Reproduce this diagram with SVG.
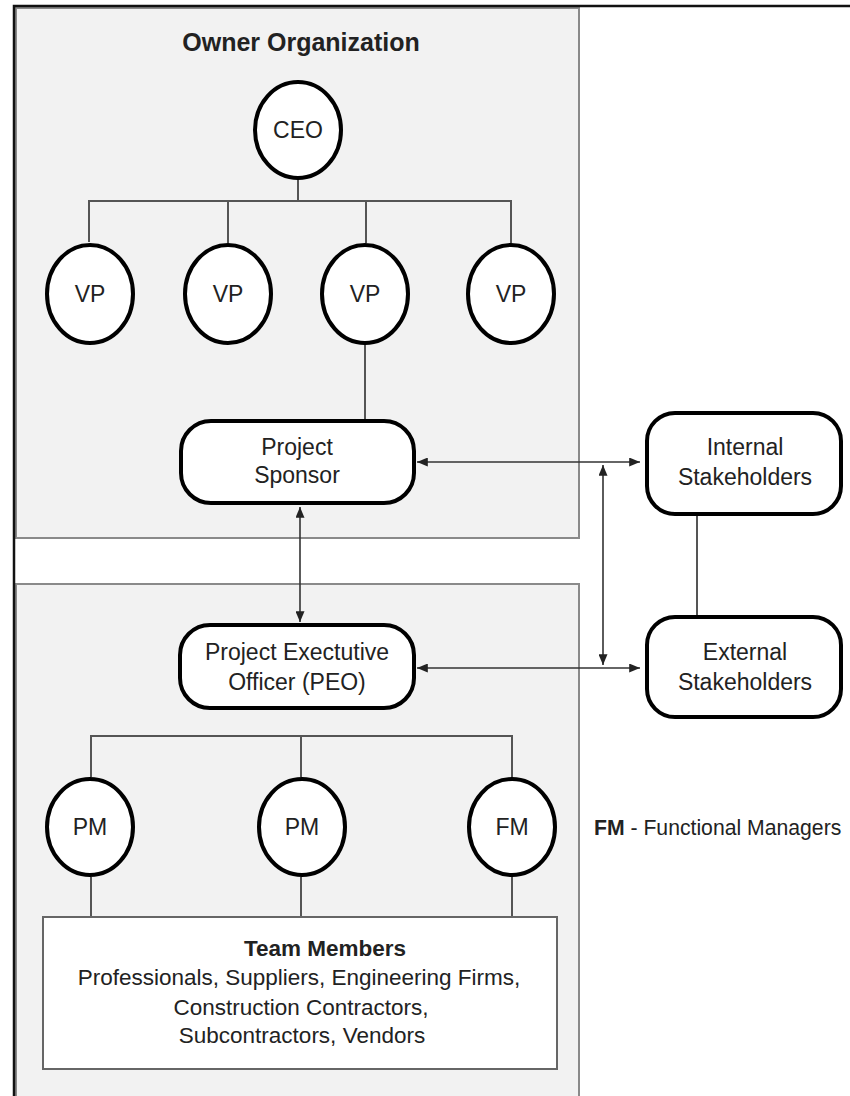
<svg xmlns="http://www.w3.org/2000/svg" width="850" height="1096" viewBox="0 0 850 1096">
  <style>
    .panel { fill: #f2f2f2; stroke: #8a8a8a; stroke-width: 2; }
    .frame { fill: none; stroke: #111; stroke-width: 2.5; }
    .oval { fill: #fff; stroke: #000; stroke-width: 4; }
    .pill { fill: #fff; stroke: #000; stroke-width: 4; }
    .plain { fill: #fff; stroke: #666; stroke-width: 2; }
    .link { fill: none; stroke: #555; stroke-width: 2; }
    .arrow { fill: none; stroke: #333; stroke-width: 1.6; marker-start: url(#head); marker-end: url(#head); }
    text { font-family: "Liberation Sans", Arial, sans-serif; fill: #222; text-anchor: middle; }
    .lbl { font-size: 23px; }
    .team { font-size: 22.5px; }
    .bold { font-weight: bold; }
  </style>
  <defs>
    <marker id="head" viewBox="0 0 12 10" refX="12" refY="5" markerWidth="12" markerHeight="9" markerUnits="userSpaceOnUse" orient="auto-start-reverse">
      <path d="M0,0 L12,5 L0,10 Z" fill="#222"/>
    </marker>
  </defs>

  <rect width="850" height="1096" fill="#fff"/>

  <!-- panels -->
  <g id="owner-panel">
    <rect class="panel" x="16" y="8" width="563" height="530"/>
    <text class="bold" x="301" y="51" font-size="25">Owner Organization</text>
  </g>
  <g id="project-panel">
    <rect class="panel" x="16" y="584" width="563" height="520"/>
  </g>

  <!-- outer frame -->
  <path class="frame" d="M14,1096 V6 H850"/>

  <!-- connectors -->
  <g id="connectors">
    <path class="link" d="M298,180 V201 M89,242 V201 H511 V243 M228,201 V243 M366,201 V243"/>
    <path class="link" d="M365,345 V420"/>
    <path class="link" d="M697,515 V616"/>
    <path class="link" d="M91,777 V736 H512 V777 M301,736 V777"/>
    <path class="link" d="M91,877 V917 M301,877 V917 M512,877 V917"/>
    <line class="arrow" x1="300" y1="507" x2="300" y2="622"/>
    <line class="arrow" x1="417" y1="462" x2="640" y2="462"/>
    <line class="arrow" x1="417" y1="668" x2="640" y2="668"/>
    <line class="arrow" x1="603" y1="465" x2="603" y2="665"/>
  </g>

  <!-- owner organization nodes -->
  <g id="ceo">
    <ellipse class="oval" cx="298" cy="130" rx="43" ry="48"/>
    <text class="lbl" x="298" y="138">CEO</text>
  </g>
  <g id="vp1">
    <ellipse class="oval" cx="90" cy="294" rx="43" ry="49"/>
    <text class="lbl" x="90" y="302">VP</text>
  </g>
  <g id="vp2">
    <ellipse class="oval" cx="228" cy="294" rx="43" ry="49"/>
    <text class="lbl" x="228" y="302">VP</text>
  </g>
  <g id="vp3">
    <ellipse class="oval" cx="365" cy="294" rx="43" ry="49"/>
    <text class="lbl" x="365" y="302">VP</text>
  </g>
  <g id="vp4">
    <ellipse class="oval" cx="511" cy="294" rx="43" ry="49"/>
    <text class="lbl" x="511" y="302">VP</text>
  </g>
  <g id="sponsor">
    <rect class="pill" x="181" y="421" width="233" height="82" rx="30"/>
    <text class="lbl" x="297" y="455">Project</text>
    <text class="lbl" x="297" y="483">Sponsor</text>
  </g>

  <!-- stakeholders -->
  <g id="internal">
    <rect class="pill" x="647" y="413" width="194" height="101" rx="28"/>
    <text class="lbl" x="745" y="455">Internal</text>
    <text class="lbl" x="745" y="485">Stakeholders</text>
  </g>
  <g id="external">
    <rect class="pill" x="647" y="617" width="194" height="100" rx="28"/>
    <text class="lbl" x="745" y="660">External</text>
    <text class="lbl" x="745" y="690">Stakeholders</text>
  </g>

  <!-- project organization nodes -->
  <g id="peo">
    <rect class="pill" x="180" y="625" width="234" height="83" rx="30"/>
    <text class="lbl" x="297" y="660">Project Exectutive</text>
    <text class="lbl" x="297" y="690">Officer (PEO)</text>
  </g>
  <g id="pm1">
    <ellipse class="oval" cx="90" cy="827" rx="43" ry="48"/>
    <text class="lbl" x="90" y="835">PM</text>
  </g>
  <g id="pm2">
    <ellipse class="oval" cx="302" cy="827" rx="43" ry="48"/>
    <text class="lbl" x="302" y="835">PM</text>
  </g>
  <g id="fm">
    <ellipse class="oval" cx="512" cy="827" rx="43" ry="48"/>
    <text class="lbl" x="512" y="835">FM</text>
  </g>
  <g id="team">
    <rect class="plain" x="43" y="917" width="514" height="152"/>
    <text class="team bold" x="325" y="956" font-size="22">Team Members</text>
    <text class="team" x="299" y="985">Professionals, Suppliers, Engineering Firms,</text>
    <text class="team" x="301" y="1015">Construction Contractors,</text>
    <text class="team" x="302" y="1043">Subcontractors, Vendors</text>
  </g>

  <!-- legend -->
  <g id="legend">
    <text x="594" y="835" font-size="21.2" style="text-anchor:start"><tspan class="bold">FM</tspan> - Functional Managers</text>
  </g>
</svg>
